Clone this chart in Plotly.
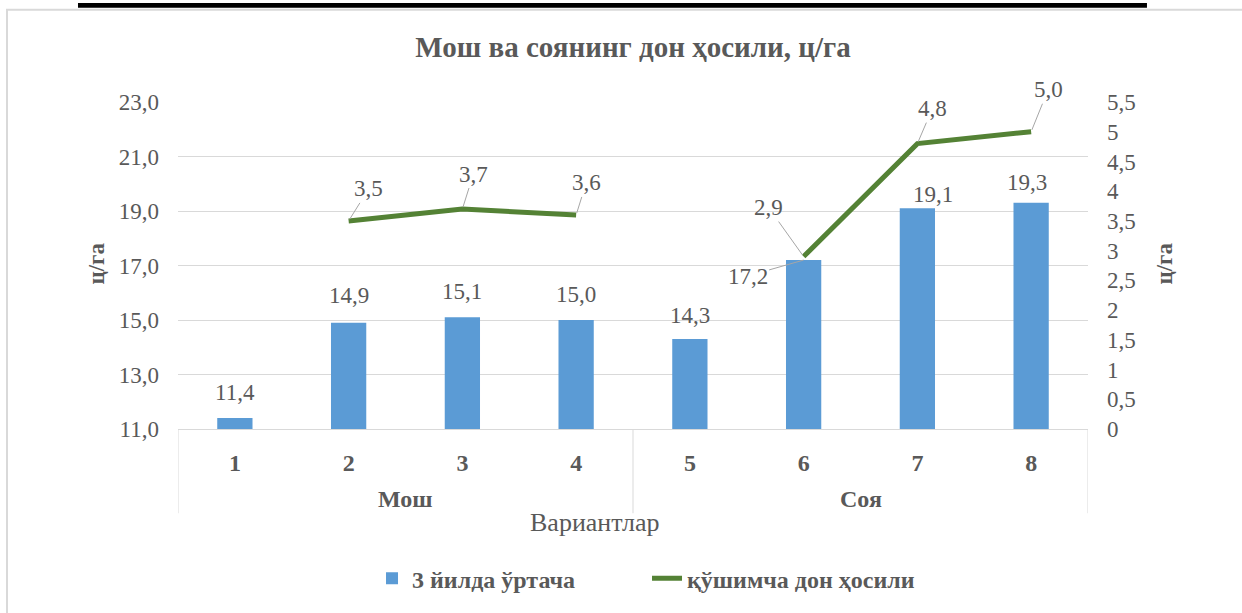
import plotly.graph_objects as go

# ---- data ----
categories = ["1", "2", "3", "4", "5", "6", "7", "8"]
groups = ["Мош", "Мош", "Мош", "Мош", "Соя", "Соя", "Соя", "Соя"]
avg_yield = [11.4, 14.9, 15.1, 15.0, 14.3, 17.2, 19.1, 19.3]
extra_yield = [None, 3.5, 3.7, 3.6, None, 2.9, 4.8, 5.0]
series_names = ["3 йилда ўртача", "қўшимча дон ҳосили"]
title_text = "Мош ва соянинг дон ҳосили, ц/га"
x_title = "Вариантлар"
y_title = "ц/га"

# ---- styles ----
FONT = "Liberation Serif"
GREY = "#595959"
GRID = "#D9D9D9"
BLUE = "#5B9BD5"
GREEN = "#548235"
LEADER = "#A6A6A6"

# label placement (pixel offsets): bar labels (xshift, yshift) ; None -> leader label
bar_label_off = [(0, 26), (0, 27), (0, 26), (0, 26), (0, 24), None, (16, 14), (-4, 20)]
bar_leader_off = {5: (-56, 16)}
line_label_off = [None, (20, -32), (11, -35), (10, -32), None, (-35, -49), (15, -35), (17, -42)]


def fmt(v):
    return f"{v:.1f}".replace(".", ",")


fig = go.Figure()
fig.add_trace(go.Bar(
    x=categories, y=avg_yield, name=series_names[0],
    marker=dict(color=BLUE, line=dict(width=0)), width=0.31,
))
fig.add_trace(go.Scatter(
    x=categories, y=extra_yield, name=series_names[1], yaxis="y2",
    mode="lines", line=dict(color=GREEN, width=5), connectgaps=False,
))

annotations = []
for i, v in enumerate(avg_yield):
    off = bar_label_off[i]
    if off is not None:
        annotations.append(dict(x=i, y=v, xref="x", yref="y", text=fmt(v), showarrow=False,
                                xshift=off[0], yshift=off[1], yanchor="middle", xanchor="center",
                                font=dict(family=FONT, size=23, color=GREY)))
    else:
        ax, ay = bar_leader_off[i]
        annotations.append(dict(x=i, y=v, xref="x", yref="y", text=fmt(v), showarrow=True,
                                arrowhead=0, arrowwidth=1, arrowcolor=LEADER,
                                ax=ax, ay=ay, font=dict(family=FONT, size=23, color=GREY)))
for i, v in enumerate(extra_yield):
    if v is None:
        continue
    ax, ay = line_label_off[i]
    annotations.append(dict(x=i, y=v, xref="x", yref="y2", text=fmt(v), showarrow=True,
                            arrowhead=0, arrowwidth=1, arrowcolor=LEADER, standoff=2,
                            ax=ax, ay=ay, font=dict(family=FONT, size=23, color=GREY)))

# group labels (centred on their categories)
uniq = []
for g in groups:
    if g not in uniq:
        uniq.append(g)
for g in uniq:
    idx = [i for i, gg in enumerate(groups) if gg == g]
    annotations.append(dict(x=sum(idx) / len(idx), y=-0.215, xref="x", yref="paper", text=g,
                            showarrow=False, yanchor="middle", xanchor="center",
                            font=dict(family=FONT, size=24, color=GREY, weight="bold")))

# axis titles
annotations.append(dict(x=0.458, y=-0.285, xref="paper", yref="paper", text=x_title, showarrow=False,
                        xanchor="center", yanchor="middle",
                        font=dict(family=FONT, size=26, color=GREY)))
annotations.append(dict(x=-0.089, y=0.506, xref="paper", yref="paper", text=y_title, showarrow=False,
                        xanchor="center", yanchor="middle", textangle=-90,
                        font=dict(family=FONT, size=23, color=GREY, weight="bold")))
annotations.append(dict(x=1.0846, y=0.506, xref="paper", yref="paper", text=y_title, showarrow=False,
                        xanchor="center", yanchor="middle", textangle=-90,
                        font=dict(family=FONT, size=23, color=GREY, weight="bold")))

shapes = []
# group dividers
bounds = [-0.5]
for i in range(1, len(groups)):
    if groups[i] != groups[i - 1]:
        bounds.append(i - 0.5)
bounds.append(len(groups) - 0.5)
for b in bounds:
    shapes.append(dict(type="line", xref="x", yref="paper", x0=b, x1=b, y0=0, y1=-0.2576,
                       line=dict(color=GRID, width=1)))
# chart border
shapes.append(dict(type="rect", xref="paper", yref="paper", x0=-0.1879, x1=1.2, y0=-0.6, y1=1.2818,
                   line=dict(color=GRID, width=2), fillcolor="rgba(0,0,0,0)", layer="below"))
# black bar at top (page artefact)
shapes.append(dict(type="rect", xref="paper", yref="paper", x0=-0.1099, x1=1.0648, y0=1.2879, y1=1.303,
                   line=dict(width=0), fillcolor="black"))

W, H = 1242, 613
L, R_EDGE, T, B_EDGE = 178, 1088, 102, 432  # plot area
fig.update_layout(
    width=W, height=H,
    margin=dict(l=L, r=W - R_EDGE, t=T, b=H - B_EDGE),
    paper_bgcolor="white", plot_bgcolor="white",
    separators=", ",
    font=dict(family=FONT, size=22, color=GREY),
    title=dict(text=title_text, x=0.5, xref="paper", y=1 - 47 / H, yref="container",
               xanchor="center", yanchor="middle",
               font=dict(family=FONT, size=29, color=GREY, weight="bold")),
    bargap=0.69,
    showlegend=True,
    legend=dict(orientation="h", x=0.2132, xanchor="left", y=-0.4576, yanchor="middle",
                entrywidth=230, entrywidthmode="pixels",
                font=dict(family=FONT, size=24, color=GREY, weight="bold"),
                bgcolor="rgba(0,0,0,0)"),
    xaxis=dict(type="category", categoryorder="array", categoryarray=categories,
               showgrid=False, showline=True, linecolor=GRID, linewidth=1,
               ticks="", ticklabelstandoff=12,
               tickfont=dict(family=FONT, size=24, color=GREY, weight="bold"),
               range=[-0.5, 7.5]),
    yaxis=dict(range=[11, 23], dtick=2, tick0=11, tickformat=".1f", showgrid=True,
               gridcolor=GRID, gridwidth=1, zeroline=False, showline=False,
               ticks="", ticklabelstandoff=18,
               tickfont=dict(family=FONT, size=23, color=GREY)),
    yaxis2=dict(range=[0, 5.5], dtick=0.5, tick0=0, overlaying="y", side="right",
                showgrid=False, zeroline=False, showline=False, ticks="", ticklabelstandoff=18,
                tickfont=dict(family=FONT, size=23, color=GREY)),
    annotations=annotations,
    shapes=shapes,
)

fig.write_html("out.html", config={"displayModeBar": False},
               post_script="document.body.style.margin='0px';")
